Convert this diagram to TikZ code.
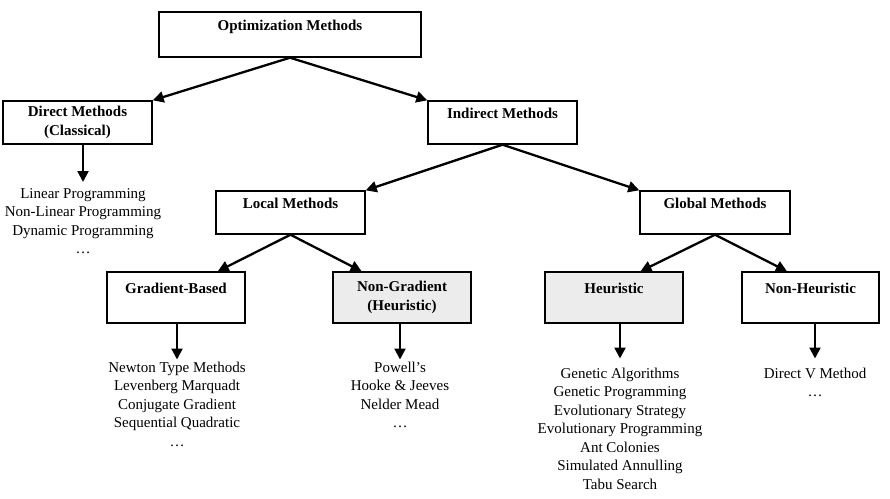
\documentclass[tikz,border=0pt]{standalone}
\usepackage{fontspec}
\setmainfont{Liberation Serif}
\usetikzlibrary{arrows.meta,positioning,calc}

\begin{document}
\begin{tikzpicture}[
    x=1pt, y=-1pt,
    box/.style={draw, line width=1.4pt, align=center, inner sep=0pt, font=\fontsize{15}{18.5}\selectfont\bfseries},
    upper/.style={box, minimum width=149pt, minimum height=43pt},
    lower/.style={box, minimum width=138pt, minimum height=51pt},
    shaded/.style={fill=gray!15},
    items/.style={anchor=north, align=center, inner sep=2pt, font=\fontsize{15}{18.5}\selectfont},
    link/.style={-{Triangle[length=11pt, width=11pt]}, line width=2.3pt},
]
    \useasboundingbox (0,0) rectangle (890,498);

    % boxes
    \node[box, minimum width=262pt, minimum height=45pt] (opt) at (290,34.5) {Optimization Methods\\~};
    \node[upper] (direct) at (77.5,122.5) {Direct Methods\\(Classical)};
    \node[upper] (indirect) at (502.5,122.5) {Indirect Methods\\~};
    \node[upper] (local) at (290.5,212.5) {Local Methods\\~};
    \node[upper, minimum width=150pt] (global) at (715,212.5) {Global Methods\\~};
    \node[lower] (grad) at (176,297.5) {Gradient-Based\\~};
    \node[lower, shaded] (nongrad) at (402,297.5) {Non-Gradient\\(Heuristic)};
    \node[lower, shaded] (heur) at (614,297.5) {Heuristic\\~};
    \node[lower, minimum width=137pt] (nonheur) at (810.5,297.5) {Non-Heuristic\\~};

    % method lists
    \node[items] (dlist) at (83,186) {Linear Programming\\Non-Linear Programming\\Dynamic Programming\\\ldots};
    \node[items] (glist) at (177,359.5) {Newton Type Methods\\Levenberg Marquadt\\Conjugate Gradient\\Sequential Quadratic\\\ldots};
    \node[items] (nglist) at (400,359.5) {Powell’s\\Hooke \& Jeeves\\Nelder Mead\\\ldots};
    \node[items] (hlist) at (620,365.5) {Genetic Algorithms\\Genetic Programming\\Evolutionary Strategy\\Evolutionary Programming\\Ant Colonies\\Simulated Annulling\\Tabu Search};
    \node[items] (nhlist) at (815,365.5) {Direct V Method\\\ldots};

    % tree links
    \draw[link] (opt.south) -- (direct.north east);
    \draw[link] (opt.south) -- (indirect.north west);
    \draw[link] (indirect.south) -- (local.north east);
    \draw[link] (indirect.south) -- (global.north west);
    \draw[link] (local.south) -- ($(grad.north west)!0.8!(grad.north east)$);
    \draw[link] (local.south) -- ($(nongrad.north west)!0.21!(nongrad.north east)$);
    \draw[link] (global.south) -- ($(heur.north west)!0.69!(heur.north east)$);
    \draw[link] (global.south) -- ($(nonheur.north west)!0.33!(nonheur.north east)$);

    % down to the lists
    \draw[link, shorten >=4pt] (direct.south -| dlist.north) -- (dlist.north);
    \draw[link] (grad.south -| glist.north) -- (glist.north);
    \draw[link] (nongrad.south -| nglist.north) -- (nglist.north);
    \draw[link, shorten >=7pt] (heur.south -| hlist.north) -- (hlist.north);
    \draw[link, shorten >=7pt] (nonheur.south -| nhlist.north) -- (nhlist.north);
\end{tikzpicture}
\end{document}
